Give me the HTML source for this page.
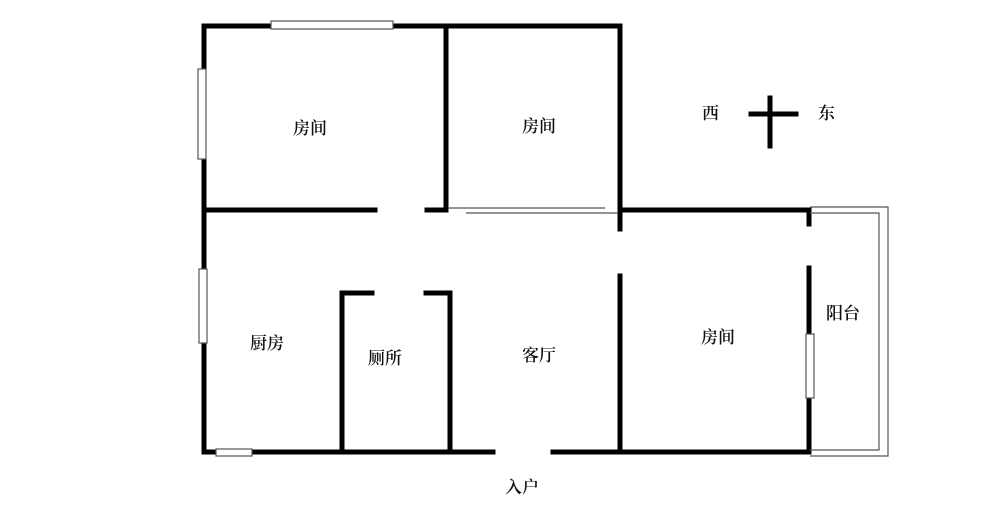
<!DOCTYPE html>
<html><head><meta charset="utf-8"><style>
html,body{margin:0;padding:0;background:#fff}
svg{display:block}
text{font-family:"Liberation Serif","Noto Serif CJK SC",serif;font-size:17px;font-weight:600;fill:#111}
</style></head><body>
<svg width="1000" height="527" viewBox="0 0 1000 527" xmlns="http://www.w3.org/2000/svg">
<g stroke="#000" stroke-width="5" fill="none" stroke-linecap="square">
<line x1="204" y1="26" x2="620" y2="26"/>
<line x1="204" y1="26" x2="204" y2="452"/>
<line x1="446" y1="26" x2="446" y2="210"/>
<line x1="620" y1="26" x2="620" y2="229"/>
<line x1="204" y1="210" x2="375" y2="210"/>
<line x1="427" y1="210" x2="446" y2="210"/>
<line x1="620" y1="210" x2="809" y2="210"/>
<line x1="809" y1="210" x2="809" y2="224"/>
<line x1="620" y1="276" x2="620" y2="452"/>
<line x1="809" y1="268" x2="809" y2="452"/>
<line x1="204" y1="452" x2="493" y2="452"/>
<line x1="553" y1="452" x2="809" y2="452"/>
<line x1="342" y1="293" x2="342" y2="452"/>
<line x1="450" y1="293" x2="450" y2="452"/>
<line x1="342" y1="293" x2="372" y2="293"/>
<line x1="426" y1="293" x2="450" y2="293"/>
<line x1="770" y1="98" x2="770" y2="146"/>
<line x1="751" y1="114" x2="796" y2="114"/>
</g>
<g stroke="#555" stroke-width="1.2" fill="#fff">
<rect x="271" y="21" width="122" height="8"/>
<rect x="198" y="69" width="8" height="90"/>
<rect x="199" y="269" width="8" height="74"/>
<rect x="216" y="449" width="36" height="7"/>
<rect x="806" y="334" width="8" height="64"/>
<line x1="448" y1="208" x2="605" y2="208"/>
<line x1="466" y1="213" x2="618" y2="213"/>
<polyline points="810,207 888,207 888,456 810,456" fill="none"/>
<polyline points="810,213 879,213 879,450 810,450" fill="none"/>
</g>
<text x="293" y="134">房间</text>
<text x="522" y="132">房间</text>
<text x="250" y="349">厨房</text>
<text x="368" y="364">厕所</text>
<text x="522" y="361">客厅</text>
<text x="701" y="343">房间</text>
<text x="826" y="319">阳台</text>
<text x="505" y="493">入户</text>
<text x="702" y="119">西</text>
<text x="818" y="119">东</text>
</svg>
</body></html>
